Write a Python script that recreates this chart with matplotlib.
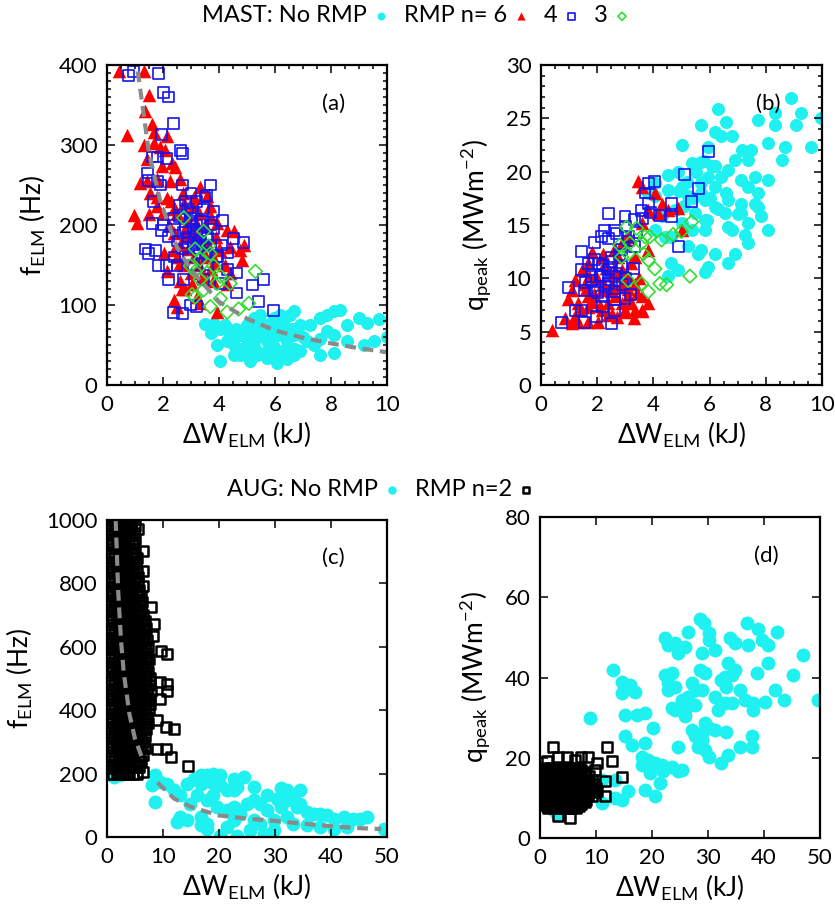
#!/usr/bin/env python3
"""ELM frequency and peak heat flux versus ELM energy loss, MAST and AUG."""

import matplotlib

matplotlib.use("Agg")
import matplotlib.pyplot as plt  # noqa: E402
from matplotlib.ticker import MultipleLocator  # noqa: E402

plt.rcParams["font.family"] = ["Lato", "DejaVu Sans"]
plt.rcParams["mathtext.fontset"] = "custom"
plt.rcParams["mathtext.rm"] = "Lato"
plt.rcParams["axes.unicode_minus"] = False

CYAN = "#1ff0f0"
RED = "#ff0000"
BLUE = "#1414f0"
GREEN = "#33dd33"
GREY = "#8a8a8a"

# ---- MAST, panel (a): f_ELM [Hz] vs dW_ELM [kJ] ----
mast_none_w_a = [3.51, 3.81, 4.05, 3.93, 4.05, 4.52, 4.76, 5.0, 5.24, 5.48, 5.71, 5.95, 6.19, 6.55,
                 6.67, 6.9, 7.26, 7.62, 7.86, 8.1, 8.33, 8.99, 9.29, 9.7, 10.0, 9.52, 9.17, 8.57,
                 8.1, 7.62, 7.38, 7.14, 8.1, 6.9, 6.67, 6.43, 6.07, 5.71, 5.36, 5.0, 4.76, 4.52,
                 5.24, 5.71, 6.19, 6.43, 6.67, 5.95, 5.48, 5.0, 4.4, 6.31, 7.62, 8.57, 7.86,
                 4.6, 4.9, 5.2, 5.5, 5.8, 6.1, 6.4, 4.3, 4.8, 5.3, 5.6, 6.0, 6.3, 6.7,
                 7.0, 4.2, 5.1, 5.9, 6.6, 3.7]
mast_none_f_a = [76, 76, 70, 50, 30, 50, 63, 75, 84, 88, 75, 84, 88, 88,
                 92, 75, 75, 84, 88, 92, 94, 84, 77, 82, 60, 55, 50, 55,
                 63, 58, 50, 55, 40, 42, 38, 32, 28, 34, 38, 42, 38, 38,
                 55, 55, 63, 55, 63, 47, 63, 58, 63, 75, 38, 75, 67,
                 70, 65, 68, 72, 66, 70, 62, 55, 45, 45, 40, 35, 42, 45,
                 60, 75, 30, 55, 70, 65]

mast_n6_w_a = [0.42, 1.31, 1.49, 0.71, 1.37, 1.61, 1.31, 1.67, 1.9, 2.08, 2.14, 2.44, 1.43, 1.43,
               1.55, 0.95, 1.07, 1.49, 1.79, 2.14, 2.26, 2.62, 2.74, 2.86, 3.33, 3.57, 3.69, 3.93,
               4.29, 4.52, 4.88, 4.82, 4.40, 4.05, 3.81, 3.45, 3.04, 2.68, 2.38, 2.5, 3.93, 3.33,
               4.29, 4.76, 3.21, 2.86, 2.38, 2.02, 2.62, 2.14, 3.45, 3.1, 2.38, 1.79, 1.96, 2.32,
               1.19, 1.67,
               2.3, 2.5, 2.7, 2.9, 3.1, 3.3, 3.5, 3.7, 3.9, 2.4, 2.6, 2.8, 3.0, 3.2,
               3.4, 3.6, 3.8, 4.0, 2.5, 2.7, 2.9, 3.1, 3.3, 3.5, 3.7, 2.2, 2.0, 1.8,
               2.6, 3.0, 3.4, 3.8, 4.2, 4.4, 2.8, 3.2]
mast_n6_f_a = [392, 392, 363, 313, 343, 326, 300, 302, 298, 294, 311, 273, 282, 255,
               240, 212, 203, 214, 224, 234, 255, 258, 227, 212, 247, 236, 224, 203,
               194, 192, 175, 156, 173, 169, 152, 135, 126, 120, 106, 98, 91, 102,
               126, 169, 186, 186, 169, 165, 152, 143, 165, 224, 220, 257, 274, 278,
               253, 316,
               230, 215, 240, 205, 235, 215, 200, 210, 185, 190, 175, 195, 185, 200,
               180, 175, 160, 170, 160, 150, 170, 160, 150, 160, 145, 200, 215, 235,
               130, 140, 135, 130, 150, 140, 120, 110]

mast_n4_w_a = [0.77, 0.95, 1.85, 2.02, 2.20, 2.38, 1.96, 2.62, 2.68, 1.61, 1.79, 2.14, 1.43, 1.49,
               1.79, 1.90, 1.67, 1.61, 1.96, 1.37, 1.49, 1.73, 1.85, 2.14, 2.20, 2.5, 2.68, 3.69,
               3.57, 3.81, 4.11, 4.52, 4.88, 3.33, 3.1, 2.86, 3.21, 3.57, 3.93, 4.29, 4.64, 5.18,
               5.6, 5.42, 5.95, 4.64, 3.21, 2.98, 2.38, 2.68, 2.86, 2.38, 3.21, 3.45, 2.98, 3.33,
               3.69, 2.74, 3.45, 4.05, 2.74,
               2.4, 2.6, 2.8, 3.0, 3.2, 3.4, 3.6, 3.8, 2.5, 2.7, 2.9, 3.1, 3.3, 3.5,
               3.7, 3.9, 2.6, 2.8, 3.0, 3.2, 3.4, 3.6, 2.9, 3.1, 3.3, 2.2, 2.0, 4.1,
               4.3, 3.0, 3.5, 2.4]
mast_n4_f_a = [387, 392, 389, 366, 360, 327, 313, 293, 289, 285, 285, 283, 265, 256,
               254, 250, 229, 202, 193, 170, 164, 168, 149, 149, 132, 149, 250, 250,
               237, 217, 206, 183, 178, 204, 195, 178, 170, 183, 161, 144, 140, 125,
               132, 104, 93, 115, 98, 100, 91, 89, 220, 208, 229, 220, 208, 187,
               200, 191, 132, 127, 132,
               200, 210, 195, 215, 190, 205, 185, 195, 180, 170, 185, 175, 180, 165,
               175, 160, 225, 230, 205, 200, 175, 150, 160, 150, 165, 185, 200, 175,
               165, 240, 235, 160]

mast_n3_w_a = [2.74, 3.45, 3.15, 3.33, 3.63, 3.69, 3.81, 2.98, 3.15, 3.57, 4.05, 4.40, 3.04, 3.15,
               3.69, 4.05, 4.29, 4.7, 5.06, 5.3, 3.45, 3.93, 3.33]
mast_n3_f_a = [209, 192, 170, 157, 174, 164, 149, 149, 142, 140, 136, 127, 113, 110,
               98, 108, 91, 95, 102, 142, 119, 127, 132]

# ---- MAST, panel (b): q_peak [MW m^-2] vs dW_ELM [kJ] ----
mast_none_w_b = [8.91, 6.30, 8.32, 9.27, 9.98, 5.71, 6.6, 7.73, 8.32, 9.09, 6.18, 6.42, 6.78, 8.08,
                 8.67, 9.62, 5.0, 5.95, 7.16, 7.46, 8.56, 7.37, 6.9, 5.36, 5.71, 6.18, 6.66, 4.53,
                 4.88, 5.95, 7.6, 8.08, 7.13, 5.0, 5.71, 6.18, 7.37, 7.73, 4.53, 5.24, 5.83, 6.66,
                 7.13, 7.73, 6.18, 5.47, 6.54, 7.13, 5.83, 7.84, 8.08, 7.37, 7.25, 6.66, 5.83, 5.36,
                 5.0, 4.64, 5.24, 5.71, 6.18, 6.9, 6.66, 5.95, 5.83, 5.59, 4.64, 4.88, 4.53, 4.05,
                 4.05, 3.82, 4.29, 4.76, 4.05, 4.41, 7.37, 7.6,
                 5.2, 5.5, 5.8, 6.1, 6.4, 5.4, 5.7, 6.0, 6.3, 6.6, 5.1, 5.9, 6.8, 7.0, 4.9]
mast_none_q_b = [26.9, 25.9, 25.5, 25.5, 25.0, 24.4, 24.7, 24.8, 24.4, 24.4, 23.75, 23.3, 23.3, 22.7,
                 22.3, 22.3, 22.5, 22.3, 22.0, 22.0, 21.1, 21.1, 21.1, 20.8, 20.9, 20.5, 20.2, 19.7,
                 20.0, 19.5, 19.5, 19.2, 19.2, 18.6, 18.9, 18.6, 18.6, 18.0, 18.3, 17.7, 17.3, 17.3,
                 17.0, 16.7, 16.7, 16.1, 16.1, 16.1, 15.5, 15.8, 14.5, 15.2, 14.1, 14.8, 14.5, 14.5,
                 15.2, 13.9, 13.0, 12.7, 12.3, 12.3, 11.4, 11.1, 10.6, 12.3, 11.4, 10.8, 10.2, 17.7,
                 18.9, 18.0, 15.8, 16.4, 14.5, 13.9, 13.3, 17.0,
                 19.0, 20.0, 21.0, 20.5, 19.5, 17.5, 18.0, 17.5, 16.5, 18.0, 16.8, 15.5, 14.5, 16.0, 18.2]

mast_n6_w_b = [0.38, 0.85, 1.09, 1.33, 1.68, 2.04, 0.97, 1.09, 1.21, 1.45, 1.68, 1.8, 1.56, 1.33,
               1.68, 2.16, 2.51, 2.99, 3.34, 3.58, 3.22, 2.87, 2.63, 3.1, 3.58, 3.82, 2.16, 2.51,
               2.87, 2.63, 2.27, 2.75, 3.1, 3.34, 3.46, 3.58, 4.05, 4.29, 4.88, 4.53, 4.17, 3.82,
               3.58, 3.1, 2.87, 5.0, 3.82, 3.34, 1.92, 2.16, 1.68, 2.39,
               1.6, 1.9, 2.2, 2.5, 2.8, 3.1, 3.4, 1.7, 2.0, 2.3, 2.6, 2.9, 3.2, 3.5,
               1.8, 2.1, 2.4, 2.7, 3.0, 3.3, 3.6, 2.2, 2.6, 3.0, 1.4, 1.2]
mast_n6_q_b = [5.2, 6.25, 5.8, 5.9, 5.9, 5.9, 8.1, 8.9, 9.8, 10.8, 11.4, 12.5, 9.5, 7.7,
               7.3, 7.0, 6.7, 7.0, 7.0, 7.0, 7.7, 7.7, 8.3, 8.3, 8.3, 7.7, 8.9, 9.5,
               9.5, 10.8, 11.4, 12.0, 10.2, 9.5, 19.1, 18.6, 18.0, 17.0, 16.6, 16.4, 16.1, 16.4,
               15.2, 13.9, 13.3, 14.5, 12.7, 12.0, 10.2, 12.0, 8.3, 7.7,
               9.0, 8.5, 9.6, 8.8, 9.2, 9.0, 8.6, 10.2, 10.0, 11.0, 10.4, 10.8, 11.4, 10.0,
               7.8, 7.4, 6.6, 6.4, 6.8, 6.3, 6.9, 12.3, 12.7, 13.6, 7.0, 6.5]

mast_n4_w_b = [0.73, 1.56, 1.98, 2.51, 0.97, 1.45, 1.92, 2.39, 2.99, 2.27, 2.63, 2.16, 1.68, 1.45,
               2.04, 1.8, 2.16, 2.39, 2.63, 2.87, 2.39, 1.92, 1.56, 2.16, 2.99, 2.63, 1.45, 1.21,
               3.1, 3.34, 3.58, 3.70, 3.82, 4.05, 4.23, 4.64, 4.64, 5.12, 5.59, 5.36, 5.95, 4.88,
               3.82, 3.34, 2.87, 2.51,
               1.8, 2.1, 2.4, 2.7, 3.0, 3.3, 1.9, 2.2, 2.5, 2.8, 3.1, 2.0, 2.3, 2.6,
               2.9, 3.2, 2.4, 2.7, 3.0, 3.4, 1.6, 2.2, 2.6, 3.6, 3.9]
mast_n4_q_b = [5.9, 5.9, 6.4, 5.8, 9.1, 12.5, 13.4, 16.1, 15.8, 14.5, 14.5, 13.9, 11.4, 10.8,
               11.4, 10.2, 10.2, 10.8, 10.2, 11.1, 9.5, 8.9, 8.9, 8.3, 8.1, 7.0, 7.0, 7.0,
               13.9, 15.5, 16.4, 18.0, 18.9, 19.1, 15.9, 15.8, 17.0, 19.7, 18.4, 17.2, 21.9, 13.0,
               17.0, 13.0, 12.7, 12.0,
               9.8, 10.3, 9.9, 10.5, 10.0, 10.9, 11.8, 11.2, 11.6, 12.2, 13.5, 8.7, 9.2, 8.8,
               9.4, 8.5, 13.7, 14.2, 14.9, 14.3, 9.6, 7.4, 8.0, 15.6, 16.2]

mast_n3_w_b = [3.04, 3.40, 3.70, 3.87, 2.80, 3.16, 3.58, 3.10, 3.64, 3.82, 4.05, 3.10, 3.58, 3.82,
               4.23, 4.47, 5.30, 4.70, 5.0, 5.36, 4.29, 2.87]
mast_n3_q_b = [14.8, 14.7, 13.9, 13.9, 13.1, 13.3, 13.3, 12.3, 12.3, 11.7, 10.9, 9.8, 9.5, 8.75,
               9.5, 9.4, 10.2, 14.1, 14.4, 15.3, 13.6, 12.0]

# ---- AUG, panel (c): f_ELM [Hz] vs dW_ELM [kJ] ----
aug_none_w_c = [1.2, 2.4, 8.6, 8.0, 8.6, 9.5, 10.7, 11.9, 13.1, 14.3, 15.5, 16.7, 17.9, 19.0,
                20.2, 16.7, 18.5, 20.2, 22.6, 24.4, 23.2, 21.4, 19.0, 17.9, 16.1, 14.9, 13.1, 14.3,
                12.5, 16.7, 17.9, 20.2, 23.2, 21.4, 22.6, 23.8, 25.0, 26.2, 27.4, 28.6, 31.0, 30.4,
                32.1, 33.3, 33.9, 35.7, 36.9, 38.1, 39.3, 40.5, 42.3, 44.0, 45.2, 46.4, 49.4, 42.9,
                40.5, 38.1, 35.7, 33.3, 32.1, 29.8, 27.4, 25.6, 28.0, 26.2, 28.6, 31.0, 34.5, 29.8,
                22.6, 21.4, 19.6, 16.7, 17.9, 26.2, 22.6, 32.1, 34.5]
aug_none_f_c = [189, 195, 195, 163, 110, 174, 168, 147, 132, 168, 184, 195, 195, 200,
                195, 168, 174, 163, 184, 189, 158, 147, 132, 116, 132, 105, 63, 53,
                47, 37, 26, 2, 2, 32, 53, 74, 105, 116, 105, 132, 153, 121,
                116, 126, 95, 79, 74, 74, 68, 58, 63, 58, 58, 63, 26, 32,
                26, 32, 37, 42, 63, 53, 42, 21, 11, 53, 84, 95, 105, 21,
                95, 84, 95, 63, 42, 158, 147, 147, 147]

# RMP n=2: dense cloud, read row by row (f level, dW values along the row)
aug_n2_rows_c = [
    (1000, [0.4, 1.1, 1.8, 2.5, 3.2, 3.9, 4.4]),
    (980, [0.75, 1.45, 2.15, 2.85, 3.55, 4.25, 4.95]),
    (960, [0.55, 1.25, 1.95, 2.65, 3.35, 4.05, 4.75]),
    (940, [0.9, 1.6, 2.3, 3.0, 3.7, 4.4, 5.0]),
    (920, [0.4, 1.1, 1.8, 2.5, 3.2, 3.9, 4.6]),
    (900, [0.75, 1.45, 2.15, 2.85, 3.55, 4.25, 4.95]),
    (880, [0.55, 1.25, 1.95, 2.65, 3.35, 4.05, 4.75, 5.3]),
    (860, [0.9, 1.6, 2.3, 3.0, 3.7, 4.4, 5.1]),
    (840, [0.4, 1.1, 1.8, 2.5, 3.2, 3.9, 4.6, 5.3]),
    (820, [0.75, 1.45, 2.15, 2.85, 3.55, 4.25, 4.95, 5.6]),
    (800, [0.55, 1.25, 1.95, 2.65, 3.35, 4.05, 4.75, 5.45]),
    (780, [0.9, 1.6, 2.3, 3.0, 3.7, 4.4, 5.1, 5.8]),
    (760, [0.4, 1.1, 1.8, 2.5, 3.2, 3.9, 4.6, 5.3, 6.0]),
    (740, [0.75, 1.45, 2.15, 2.85, 3.55, 4.25, 4.95, 5.65, 6.2]),
    (720, [0.55, 1.25, 1.95, 2.65, 3.35, 4.05, 4.75, 5.45, 6.15]),
    (700, [0.9, 1.6, 2.3, 3.0, 3.7, 4.4, 5.1, 5.8, 6.5]),
    (680, [0.4, 1.1, 1.8, 2.5, 3.2, 3.9, 4.6, 5.3, 6.0, 6.7]),
    (660, [0.75, 1.45, 2.15, 2.85, 3.55, 4.25, 4.95, 5.65, 6.35, 6.9]),
    (640, [0.55, 1.25, 1.95, 2.65, 3.35, 4.05, 4.75, 5.45, 6.15, 6.85]),
    (620, [0.9, 1.6, 2.3, 3.0, 3.7, 4.4, 5.1, 5.8, 6.5, 7.2]),
    (600, [0.4, 1.1, 1.8, 2.5, 3.2, 3.9, 4.6, 5.3, 6.0, 6.7, 7.4]),
    (580, [0.75, 1.45, 2.15, 2.85, 3.55, 4.25, 4.95, 5.65, 6.35, 7.05]),
    (560, [0.55, 1.25, 1.95, 2.65, 3.35, 4.05, 4.75, 5.45, 6.15, 6.85, 7.5]),
    (540, [0.9, 1.6, 2.3, 3.0, 3.7, 4.4, 5.1, 5.8, 6.5, 7.2]),
    (520, [0.4, 1.1, 1.8, 2.5, 3.2, 3.9, 4.6, 5.3, 6.0, 6.7, 7.4]),
    (500, [0.75, 1.45, 2.15, 2.85, 3.55, 4.25, 4.95, 5.65, 6.35, 7.05, 7.75]),
    (480, [0.55, 1.25, 1.95, 2.65, 3.35, 4.05, 4.75, 5.45, 6.15, 6.85, 7.55]),
    (460, [0.9, 1.6, 2.3, 3.0, 3.7, 4.4, 5.1, 5.8, 6.5, 7.2, 7.8]),
    (440, [0.4, 1.1, 1.8, 2.5, 3.2, 3.9, 4.6, 5.3, 6.0, 6.7, 7.4]),
    (420, [0.75, 1.45, 2.15, 2.85, 3.55, 4.25, 4.95, 5.65, 6.35, 7.05, 7.7]),
    (400, [0.55, 1.25, 1.95, 2.65, 3.35, 4.05, 4.75, 5.45, 6.15, 6.85, 7.5]),
    (380, [0.9, 1.6, 2.3, 3.0, 3.7, 4.4, 5.1, 5.8, 6.5, 7.2]),
    (360, [0.4, 1.1, 1.8, 2.5, 3.2, 3.9, 4.6, 5.3, 6.0, 6.7, 7.3]),
    (340, [0.75, 1.45, 2.15, 2.85, 3.55, 4.25, 4.95, 5.65, 6.35, 7.05]),
    (320, [0.55, 1.25, 1.95, 2.65, 3.35, 4.05, 4.75, 5.45, 6.15, 6.85]),
    (300, [0.9, 1.6, 2.3, 3.0, 3.7, 4.4, 5.1, 5.8, 6.5]),
    (280, [0.4, 1.1, 1.8, 2.5, 3.2, 3.9, 4.6, 5.3, 6.0, 6.7]),
    (260, [0.75, 1.45, 2.15, 2.85, 3.55, 4.25, 4.95, 5.65, 6.35]),
    (240, [0.55, 1.25, 1.95, 2.65, 3.35, 4.05, 4.75, 5.45, 6.15]),
    (220, [0.9, 1.6, 2.3, 3.0, 3.7, 4.4, 5.1, 5.8]),
    (200, [0.4, 1.1, 1.8, 2.5, 3.2, 3.9, 4.6, 5.3]),
]
aug_n2_extra_w_c = [5.5, 6.4, 6.4, 6.4, 7.9, 8.4, 8.2, 10.8, 9.6, 10.8, 9.4, 10.8, 9.4, 12.0,
                    10.5, 9.0, 10.5, 11.4, 9.0, 14.4, 6.4, 7.2, 7.5]
aug_n2_extra_f_c = [972, 903, 840, 793, 725, 672, 635, 577, 588, 483, 488, 461, 434, 340,
                    347, 368, 277, 252, 277, 225, 205, 560, 420]

# ---- AUG, panel (d): q_peak [MW m^-2] vs dW_ELM [kJ] ----
aug_none_w_d = [13.1, 14.6, 14.6, 16.1, 17.0, 15.2, 17.3, 18.8, 8.9, 20.2, 15.2, 16.4, 18.8, 18.2,
                19.3, 20.5, 18.2, 21.7, 23.5, 25.3, 24.7, 19.6, 22.0, 21.4, 18.8, 20.5, 15.8, 14.6,
                13.4, 11.0, 13.4, 11.0, 22.3, 24.1, 22.9, 24.7, 25.9, 26.5, 28.6, 29.2, 30.1, 30.1,
                31.3, 29.0, 23.5, 22.3, 22.9, 24.1, 27.1, 27.7, 28.9, 29.5, 28.6, 26.5, 25.3, 25.9,
                24.1, 25.9, 23.5, 31.3, 31.8, 33.0, 34.2, 33.3, 33.0, 34.2, 33.6, 34.8, 33.9, 34.8,
                36.9, 37.2, 39.0, 39.6, 40.8, 42.3, 40.8, 38.7, 47.0, 45.2, 41.9, 43.5, 40.2, 38.1,
                36.6, 35.7, 38.1, 49.7, 27.1, 27.7, 28.9, 30.1, 31.3, 33.3, 28.3, 29.5, 30.1, 32.4,
                33.6, 35.7, 37.8, 37.8, 28.9, 29.5, 24.7, 32.4, 27.7, 22.9, 2.5, 5.0, 1.0, 3.0]
aug_none_q_d = [41.9, 39.0, 36.1, 38.1, 36.5, 30.7, 30.7, 31.1, 29.9, 27.4, 25.3, 23.2, 23.6, 20.3,
                19.5, 18.7, 18.2, 18.2, 17.8, 17.0, 16.6, 16.2, 16.6, 13.7, 12.0, 10.4, 11.6, 9.5,
                10.0, 8.7, 14.5, 14.5, 49.8, 48.5, 48.1, 46.0, 47.7, 51.4, 54.7, 53.5, 51.0, 49.3,
                46.8, 46.0, 41.0, 40.6, 38.6, 37.7, 38.6, 36.9, 36.9, 41.0, 41.9, 35.2, 34.4, 31.9,
                31.9, 30.3, 32.3, 35.2, 31.9, 33.6, 33.6, 37.7, 40.2, 40.6, 43.5, 41.9, 49.8, 48.5,
                53.5, 48.1, 52.2, 49.3, 48.1, 51.4, 43.5, 41.0, 45.6, 40.6, 36.9, 34.4, 34.0, 33.6,
                34.4, 36.9, 31.9, 34.4, 26.9, 25.3, 26.1, 27.4, 27.0, 26.5, 22.8, 22.0, 20.3, 18.7,
                20.7, 22.8, 25.3, 22.8, 24.5, 28.6, 22.8, 39.4, 33.2, 36.9, 7.0, 16.0, 10.0, 6.0]

aug_n2_rows_d = [
    (17.5, [1.0, 2.0, 3.0, 4.0, 5.0, 6.0, 7.0]),
    (17.0, [0.7, 1.5, 2.5, 3.5, 4.5, 5.5, 6.5, 7.4]),
    (16.5, [0.6, 1.4, 2.2, 3.0, 3.8, 4.6, 5.4, 6.2, 7.0, 7.8]),
    (16.0, [0.5, 1.0, 1.8, 2.6, 3.4, 4.2, 5.0, 5.8, 6.6, 7.4, 8.2]),
    (15.5, [0.5, 1.1, 1.8, 2.5, 3.2, 3.9, 4.6, 5.3, 6.0, 6.7, 7.4, 8.1, 8.8]),
    (14.5, [0.8, 1.5, 2.2, 2.9, 3.6, 4.3, 5.0, 5.7, 6.4, 7.1, 7.8, 8.5, 9.2]),
    (13.5, [0.5, 1.1, 1.8, 2.5, 3.2, 3.9, 4.6, 5.3, 6.0, 6.7, 7.4, 8.1, 8.8, 9.6]),
    (12.5, [0.8, 1.5, 2.2, 2.9, 3.6, 4.3, 5.0, 5.7, 6.4, 7.1, 7.8, 8.5, 9.2, 10.0]),
    (11.5, [0.5, 1.1, 1.8, 2.5, 3.2, 3.9, 4.6, 5.3, 6.0, 6.7, 7.4, 8.1, 8.8, 9.6]),
    (10.5, [0.8, 1.5, 2.2, 2.9, 3.6, 4.3, 5.0, 5.7, 6.4, 7.1, 7.8, 8.5, 9.2]),
    (9.5, [0.6, 1.3, 2.0, 2.7, 3.4, 4.1, 4.8, 5.5, 6.2, 6.9, 7.6, 8.3]),
    (9.0, [0.9, 1.7, 2.4, 3.1, 3.8, 4.5, 5.2, 5.9, 6.6, 7.3, 8.0]),
    (8.5, [1.0, 1.8, 2.6, 3.4, 4.2, 5.0, 5.8, 6.6, 7.4]),
    (8.0, [1.3, 2.1, 2.9, 3.7, 4.5, 5.3, 6.1, 6.9]),
    (7.5, [1.5, 2.5, 3.5, 4.5, 5.5, 6.5]),
]
aug_n2_extra_w_d = [2.4, 1.2, 3.3, 4.8, 7.4, 8.6, 11.9, 12.8, 10.1, 14.6, 11.6, 11.6, 10.1, 3.3,
                    5.4, 9.8, 6.3]
aug_n2_extra_q_d = [22.8, 19.1, 20.3, 20.3, 20.3, 20.3, 22.8, 19.1, 18.7, 15.3, 14.1, 10.4, 11.6, 5.4,
                    5.0, 17.0, 19.5]

# fitted scaling curves (None = hidden gap)
fit_w_a = [1.1, 1.5, 1.9, 2.5, 3.0, 4.0, 5.0, 6.0, 7.0, 8.0, 9.0, 10.0]
fit_f_a = [392, 290, 230, 172, 144, 104, 83, 68, 59, 52, 46, 41]
fit_w_c = [1.55, 2.0, 2.5, 3.0, 4.0, 5.0, 6.5, None, 9.0, 12.0, 15.0, 20.0, 25.0, 30.0, 35.0, 40.0,
           45.0, 49.0]
fit_f_c = [1000, 775, 620, 517, 388, 310, 238, None, 172, 121, 95, 68, 58, 51, 42, 34, 28, 25]


def flatten_rows(rows):
    xs, ys = [], []
    for level, values in rows:
        xs.extend(values)
        ys.extend([level] * len(values))
    return xs, ys


def style_axis(ax, xlim, ylim, xmajor, ymajor, xminor=None, yminor=None):
    ax.set_xlim(*xlim)
    ax.set_ylim(*ylim)
    ax.xaxis.set_major_locator(MultipleLocator(xmajor))
    ax.yaxis.set_major_locator(MultipleLocator(ymajor))
    if xminor:
        ax.xaxis.set_minor_locator(MultipleLocator(xminor))
    if yminor:
        ax.yaxis.set_minor_locator(MultipleLocator(yminor))
    ax.tick_params(which="both", direction="in", top=True, right=True, labelsize=16, pad=7, width=1.1)
    ax.tick_params(which="major", length=6)
    ax.tick_params(which="minor", length=3)
    for spine in ax.spines.values():
        spine.set_linewidth(1.6)


fig = plt.figure(figsize=(8.35, 9.14), dpi=100)
W, H = 835, 914
ax_a = fig.add_axes([107 / W, 1 - 385 / H, 280 / W, 320 / H])
ax_b = fig.add_axes([541 / W, 1 - 385 / H, 281 / W, 320 / H])
ax_c = fig.add_axes([107 / W, 1 - 837 / H, 280 / W, 317 / H])
ax_d = fig.add_axes([540 / W, 1 - 838 / H, 280 / W, 321 / H])

# MAST panels
h_none = ax_a.scatter(mast_none_w_a, mast_none_f_a, s=88, c=CYAN, marker="o", linewidths=0, label="MAST: No RMP")
h_n6 = ax_a.scatter(mast_n6_w_a, mast_n6_f_a, s=95, c=RED, marker="^", linewidths=0, label="RMP n= 6")
h_n4 = ax_a.scatter(mast_n4_w_a, mast_n4_f_a, s=62, facecolors="none", edgecolors=BLUE, marker="s",
                    linewidths=1.2, label="4")
h_n3 = ax_a.scatter(mast_n3_w_a, mast_n3_f_a, s=48, facecolors="none", edgecolors=GREEN, marker="D",
                    linewidths=1.2, label="3")
ax_a.plot(fit_w_a, fit_f_a, color=GREY, lw=3, ls=(0, (2.6, 1.6)))

ax_b.scatter(mast_none_w_b, mast_none_q_b, s=88, c=CYAN, marker="o", linewidths=0)
ax_b.scatter(mast_n6_w_b, mast_n6_q_b, s=95, c=RED, marker="^", linewidths=0)
ax_b.scatter(mast_n4_w_b, mast_n4_q_b, s=62, facecolors="none", edgecolors=BLUE, marker="s", linewidths=1.2)
ax_b.scatter(mast_n3_w_b, mast_n3_q_b, s=48, facecolors="none", edgecolors=GREEN, marker="D", linewidths=1.2)

# AUG panels
n2_w_c, n2_f_c = flatten_rows(aug_n2_rows_c)
n2_w_d, n2_q_d = flatten_rows(aug_n2_rows_d)

g_none = ax_c.scatter(aug_none_w_c, aug_none_f_c, s=100, c=CYAN, marker="o", linewidths=0, label="AUG: No RMP")
g_n2 = ax_c.scatter(n2_w_c + aug_n2_extra_w_c, n2_f_c + aug_n2_extra_f_c, s=52, facecolors="none",
                    edgecolors="black", marker="s", linewidths=1.8, label="RMP n=2")
ax_c.plot(fit_w_c, fit_f_c, color=GREY, lw=3, ls=(0, (2.6, 1.6)))

ax_d.scatter(aug_none_w_d, aug_none_q_d, s=100, c=CYAN, marker="o", linewidths=0)
ax_d.scatter(n2_w_d + aug_n2_extra_w_d, n2_q_d + aug_n2_extra_q_d, s=52, facecolors="none",
             edgecolors="black", marker="s", linewidths=1.8)

style_axis(ax_a, (0, 10), (0, 400), 2, 100, 0.5, 10)
style_axis(ax_b, (0, 10), (0, 30), 2, 5, 0.5, 1)
style_axis(ax_c, (0, 50), (0, 1000), 10, 200)
style_axis(ax_d, (0, 50), (0, 80), 10, 20)

xlabel = "ΔW$\\mathregular{_{ELM}}$ (kJ)"
flabel = "f$\\mathregular{_{ELM}}$ (Hz)"
qlabel = "q$\\mathregular{_{peak}}$ (MWm$\\mathregular{^{-2}}$)"
for ax in (ax_a, ax_b, ax_c, ax_d):
    ax.set_xlabel(xlabel, fontsize=19, labelpad=4)
ax_a.set_ylabel(flabel, fontsize=19, labelpad=8)
ax_c.set_ylabel(flabel, fontsize=19, labelpad=8)
ax_b.set_ylabel(qlabel, fontsize=19, labelpad=8)
ax_d.set_ylabel(qlabel, fontsize=19, labelpad=8)

for ax, tag in ((ax_a, "(a)"), (ax_b, "(b)"), (ax_c, "(c)"), (ax_d, "(d)")):
    ax.text(0.81, 0.88, tag, transform=ax.transAxes, fontsize=16, ha="center", va="center")

fig.legend(handles=[h_none, h_n6, h_n4, h_n3], loc="center", bbox_to_anchor=(0.5, 1 - 16 / H),
           ncol=4, frameon=False, markerfirst=False, fontsize=17, markerscale=0.6,
           handletextpad=0.15, columnspacing=0.5, handlelength=0.9, borderpad=0)
fig.legend(handles=[g_none, g_n2], loc="center", bbox_to_anchor=(382 / W, 1 - 490 / H),
           ncol=2, frameon=False, markerfirst=False, fontsize=17, markerscale=0.6,
           handletextpad=0.15, columnspacing=0.5, handlelength=0.9, borderpad=0)

fig.savefig("out.png", dpi=100)
